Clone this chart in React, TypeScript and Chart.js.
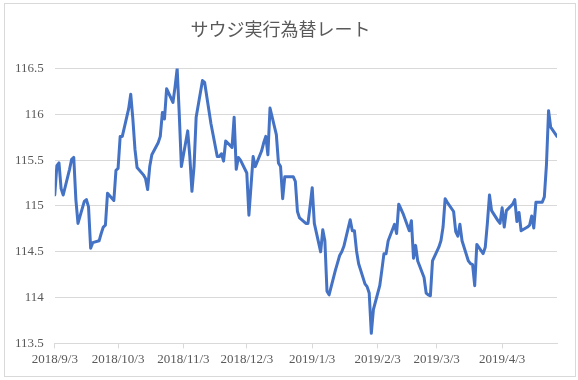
import { useEffect, useRef } from "react";
import { Chart, registerables } from "chart.js";

Chart.register(...registerables);

const TITLE = "サウジ実行為替レート";

// First trading day of the series (Monday); values below are Mon–Fri business days
const START_DATE = "2018/9/3";

// Business-day values, one row per week (Mon..Fri)
const RATE_WEEKS: number[][] = [
  [115.12, 115.44, 115.47, 115.19, 115.12],
  [115.4, 115.51, 115.53, 115.07, 114.81],
  [115.05, 115.07, 114.99, 114.54, 114.6],
  [114.62, 114.7, 114.77, 114.79, 115.14],
  [115.06, 115.39, 115.41, 115.76, 115.76],
  [116.06, 116.22, 115.95, 115.62, 115.42],
  [115.34, 115.3, 115.18, 115.43, 115.56],
  [115.69, 115.76, 116.02, 115.95, 116.28],
  [116.13, 116.3, 116.5, 116.0, 115.43],
  [115.82, 115.54, 115.16, 115.43, 115.97],
  [116.37, 116.35, 116.2, 116.05, 115.9],
  [115.54, 115.54, 115.57, 115.49, 115.71],
  [115.64, 115.97, 115.4, 115.53, 115.5],
  [115.36, 114.9, 115.22, 115.54, 115.43],
  [115.6, 115.69, 115.76, 115.56, 116.07],
  [115.78, 115.47, 115.43, 115.08, 115.32],
  [115.32, 115.32, 115.27, 114.94, 114.87],
  [114.81, 114.81, 115.0, 115.2, 114.81],
  [114.5, 114.74, 114.62, 114.07, 114.03],
  [114.3, 114.38, 114.46, 114.5, 114.56],
  [114.85, 114.73, 114.73, 114.51, 114.37],
  [114.15, 114.12, 114.05, 113.61, 113.87],
  [114.13, 114.3, 114.48, 114.48, 114.62],
  [114.8, 114.7, 115.02, 114.97, 114.92],
  [114.73, 114.84, 114.43, 114.57, 114.4],
  [114.22, 114.05, 114.03, 114.02, 114.4],
  [114.55, 114.62, 114.77, 115.08, 115.04],
  [114.94, 114.72, 114.67, 114.8, 114.62],
  [114.4, 114.37, 114.36, 114.13, 114.58],
  [114.48, 114.55, 114.81, 115.12, 114.95],
  [114.84, 114.81, 114.98, 114.77, 114.95],
  [115.02, 115.07, 114.83, 114.93, 114.73],
  [114.77, 114.79, 114.89, 114.76, 115.04],
  [115.04, 115.1, 115.45, 116.04, 115.86],
  [115.76],
];

const X_TICK_LABELS = [
  "2018/9/3",
  "2018/10/3",
  "2018/11/3",
  "2018/12/3",
  "2019/1/3",
  "2019/2/3",
  "2019/3/3",
  "2019/4/3",
];

const Y_MIN = 113.5;
const Y_MAX = 116.5;
const Y_STEP = 0.5;

function dayNum(s: string): number {
  const [y, m, d] = s.split("/").map(Number);
  return Date.UTC(y, m - 1, d) / 86400000;
}

export default function App() {
  const ref = useRef<HTMLCanvasElement | null>(null);

  useEffect(() => {
    if (!ref.current) return;
    const start = dayNum(START_DATE);
    const points: { x: number; y: number }[] = [];
    RATE_WEEKS.forEach((week, w) => {
      week.forEach((v, d) => {
        points.push({ x: w * 7 + d, y: v });
      });
    });
    const tickDays = X_TICK_LABELS.map((l) => dayNum(l) - start);
    const lastX = points[points.length - 1].x;

    const borderPlugin = {
      id: "outerBorder",
      beforeDraw(chart: any) {
        const ctx = chart.ctx;
        ctx.save();
        ctx.fillStyle = "#ffffff";
        ctx.fillRect(0, 0, chart.width, chart.height);
        ctx.strokeStyle = "#d9d9d9";
        ctx.lineWidth = 1;
        ctx.strokeRect(4.5, 3.5, 571, 373);
        ctx.restore();
      },
    };

    const chart = new Chart(ref.current, {
      type: "line",
      data: {
        datasets: [
          {
            data: points,
            borderColor: "#4472C4",
            borderWidth: 3,
            pointRadius: 0,
            tension: 0,
            fill: false,
            borderJoinStyle: "round",
            borderCapStyle: "round",
          },
        ],
      },
      options: {
        animation: false,
        responsive: false,
        devicePixelRatio: 1,
        layout: { padding: { left: 4, right: 21, top: 0, bottom: 10 } },
        plugins: {
          legend: { display: false },
          tooltip: { enabled: false },
          title: {
            display: true,
            text: TITLE,
            color: "#595959",
            font: { family: "'Noto Sans CJK JP', sans-serif", size: 18, weight: "normal" },
            padding: { top: 18, bottom: 29 },
          },
        },
        scales: {
          x: {
            type: "linear",
            min: 0,
            max: lastX,
            afterBuildTicks: (axis: any) => {
              axis.ticks = tickDays.map((v) => ({ value: v }));
            },
            grid: {
              drawOnChartArea: false,
              drawTicks: true,
              tickLength: 5,
              color: "#d9d9d9",
            },
            border: { display: true, color: "#d9d9d9" },
            ticks: {
              color: "#595959",
              font: { family: "'Liberation Serif', serif", size: 13 },
              padding: 3,
              maxRotation: 0,
              autoSkip: false,
              callback: (value: any) => {
                const idx = tickDays.indexOf(Number(value));
                return idx >= 0 ? X_TICK_LABELS[idx] : "";
              },
            },
          },
          y: {
            min: Y_MIN,
            max: Y_MAX,
            grid: { color: "#d9d9d9", drawTicks: false },
            border: { display: false },
            ticks: {
              stepSize: Y_STEP,
              color: "#595959",
              font: { family: "'Liberation Serif', serif", size: 13 },
              padding: 11,
              callback: (value: any) => String(Number(value)),
            },
          },
        },
      },
      plugins: [borderPlugin],
    } as any);
    return () => chart.destroy();
  }, []);

  return (
    <div style={{ position: "fixed", left: 0, top: 0, width: 578, height: 380, background: "#fff" }}>
      <canvas ref={ref} width={578} height={380} style={{ display: "block" }} />
    </div>
  );
}
